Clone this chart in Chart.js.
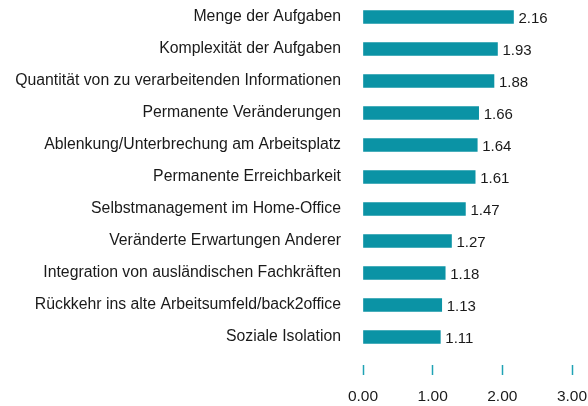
<!DOCTYPE html>
<html>
<head>
<meta charset="utf-8">
<script src="https://cdn.jsdelivr.net/npm/chart.js"></script>
<style>
  html,body{margin:0;padding:0;background:#fff;}
  #wrap{width:588px;height:406px;}
</style>
</head>
<body>
<div id="wrap"><canvas id="bars" width="588" height="406"></canvas></div>
<script>
// ---- data ----
const LABELS = [
  'Menge der Aufgaben',
  'Komplexität der Aufgaben',
  'Quantität von zu verarbeitenden Informationen',
  'Permanente Veränderungen',
  'Ablenkung/Unterbrechung am Arbeitsplatz',
  'Permanente Erreichbarkeit',
  'Selbstmanagement im Home-Office',
  'Veränderte Erwartungen Anderer',
  'Integration von ausländischen Fachkräften',
  'Rückkehr ins alte Arbeitsumfeld/back2office',
  'Soziale Isolation'
];
const VALUES = [2.16, 1.93, 1.88, 1.66, 1.64, 1.61, 1.47, 1.27, 1.18, 1.13, 1.11];
const X_MIN = 0, X_MAX = 3, X_STEP = 1;

const TEAL = '#0b93a5';
const FONT = 'Liberation Sans, Arial, Helvetica, sans-serif';

// value text right of each bar
const valueLabels = {
  id:'valueLabels',
  afterDatasetsDraw(chart){
    const ctx = chart.ctx;
    const meta = chart.getDatasetMeta(0);
    ctx.save();
    ctx.font = '15px ' + FONT;
    ctx.fillStyle = '#1a1a1a';
    ctx.textAlign = 'left';
    ctx.textBaseline = 'middle';
    meta.data.forEach((bar,i)=>{
      ctx.fillText(VALUES[i].toFixed(2), bar.x + 5, bar.y + 2);
    });
    ctx.restore();
  }
};

new Chart(document.getElementById('bars'), {
  type:'bar',
  data:{
    labels: LABELS,
    datasets:[{ data: VALUES, backgroundColor: TEAL, barThickness: 13, borderWidth: 0 }]
  },
  options:{
    indexAxis:'y',
    responsive:false,
    animation:false,
    layout:{ padding:{ top:1, left:0, right:0, bottom:0 } },
    plugins:{ legend:{ display:false }, tooltip:{ enabled:false } },
    scales:{
      x:{
        min:X_MIN, max:X_MAX,
        border:{ display:false },
        // short tick marks only, set off below the bars
        grid:{
          display:true, drawOnChartArea:false, drawTicks:true,
          tickLength:22, tickColor:'#1fa3b4', tickWidth:1.5,
          tickBorderDash:[10,12], tickBorderDashOffset:10
        },
        ticks:{
          stepSize:X_STEP, padding:12, color:'#1a1a1a',
          font:{ family:FONT, size:15.5 },
          callback:v=>Number(v).toFixed(2)
        },
        afterFit(scale){
          scale.height = 53;
          scale.paddingLeft = 0;
          scale.paddingRight = 16;
        }
      },
      y:{
        border:{ display:false },
        grid:{ display:false, drawTicks:false },
        ticks:{ padding:22, color:'#1a1a1a', font:{ family:FONT, size:15.8 } },
        afterFit(scale){
          scale.width = 363;
          scale.paddingTop = 0;
          scale.paddingBottom = 0;
        }
      }
    }
  },
  plugins:[valueLabels]
});
</script>
</body>
</html>
